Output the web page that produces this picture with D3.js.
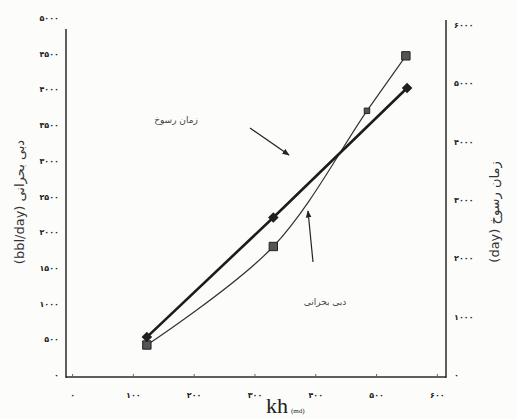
<!DOCTYPE html>
<html>
<head>
<meta charset="utf-8">
<script src="https://cdn.jsdelivr.net/npm/d3@7"></script>
<style>
  body { margin: 0; background: #fcfcfb; }
  svg { display: block; }
</style>
</head>
<body>
<div id="app"></div>
<script>
// data
const rateKh = [123, 331, 485, 549];          // thin line, squares, left axis
const rateValues = [420, 1800, 3700, 4470];   // دبی بحرانی (bbl/day)
const timeKh = [123, 331, 551];               // thick line, diamonds, right axis
const timeValues = [650, 2700, 4920];         // زمان رسوخ (day)

const xTicks = [0, 100, 200, 300, 400, 500, 600];
const leftTicks = [0, 500, 1000, 1500, 2000, 2500, 3000, 3500, 4000, 4500, 5000];
const rightTicks = [0, 1000, 2000, 3000, 4000, 5000, 6000];

const W = 517, H = 419;
const fa = d => String(d).replace(/\d/g, c => '۰۱۲۳۴۵۶۷۸۹'[+c]);

const svg = d3.select('#app').append('svg')
  .attr('width', W)
  .attr('height', H);

const x = d3.scaleLinear().domain([-10, 615]).range([66, 446]);
const yL = d3.scaleLinear().domain([0, 5000]).range([375, 18]);
const yR = d3.scaleLinear().domain([0, 6000]).range([375, 25]);

const ink = '#2a2a2a';

// axis frame lines
svg.append('line').attr('x1', 66).attr('x2', 66).attr('y1', 29).attr('y2', 378)
  .attr('stroke', ink).attr('stroke-width', 1.5);
svg.append('line').attr('x1', 66).attr('x2', 446).attr('y1', 377).attr('y2', 377)
  .attr('stroke', ink).attr('stroke-width', 1.5);
svg.append('line').attr('x1', 446).attr('x2', 446).attr('y1', 20).attr('y2', 378)
  .attr('stroke', ink).attr('stroke-width', 1.5);

const tickFont = g => g.selectAll('text')
  .attr('font-family', 'DejaVu Sans')
  .attr('font-weight', 'bold')
  .attr('font-size', 8)
  .attr('fill', '#222');

// x axis
svg.append('g')
  .attr('transform', 'translate(0,377)')
  .call(d3.axisBottom(x).tickValues(xTicks).tickSize(-3).tickPadding(15).tickFormat(fa))
  .call(g => g.select('.domain').remove())
  .call(g => g.selectAll('line').attr('stroke', '#666'))
  .call(tickFont);

// left axis
svg.append('g')
  .attr('transform', 'translate(66,0)')
  .call(d3.axisLeft(yL).tickValues(leftTicks).tickSize(0).tickPadding(7).tickFormat(fa))
  .call(g => g.select('.domain').remove())
  .call(tickFont);

// right axis
svg.append('g')
  .attr('transform', 'translate(446,0)')
  .call(d3.axisRight(yR).tickValues(rightTicks).tickSize(0).tickPadding(8).tickFormat(fa))
  .call(g => g.select('.domain').remove())
  .call(tickFont);

// series: critical rate (thin, smoothed, squares) and breakthrough time (thick, diamonds)
const rateData = rateKh.map((k, i) => ({ k, v: rateValues[i] }));
const timeData = timeKh.map((k, i) => ({ k, v: timeValues[i] }));

svg.append('path')
  .datum(rateData)
  .attr('fill', 'none')
  .attr('stroke', '#333')
  .attr('stroke-width', 1.2)
  .attr('d', d3.line().x(d => x(d.k)).y(d => yL(d.v)).curve(d3.curveCatmullRom.alpha(0.5)));

svg.append('path')
  .datum(timeData)
  .attr('fill', 'none')
  .attr('stroke', '#1c1c1c')
  .attr('stroke-width', 2.6)
  .attr('d', d3.line().x(d => x(d.k)).y(d => yR(d.v)));

svg.selectAll('path.sq')
  .data(rateData)
  .join('path')
  .attr('class', 'sq')
  .attr('transform', d => `translate(${x(d.k)},${yL(d.v)})`)
  .attr('d', (d, i) => d3.symbol(d3.symbolSquare, i === 2 ? 30 : 70)())
  .attr('fill', '#555')
  .attr('stroke', '#222')
  .attr('stroke-width', 1);

// diamonds: squares turned by 45 degrees
svg.selectAll('path.dm')
  .data(timeData)
  .join('path')
  .attr('class', 'dm')
  .attr('transform', d => `translate(${x(d.k)},${yR(d.v)}) rotate(45)`)
  .attr('d', d3.symbol(d3.symbolSquare, 56)())
  .attr('fill', '#1f1f1f');

// annotations with arrows
svg.append('defs').append('marker')
  .attr('id', 'arr')
  .attr('viewBox', '0 0 10 10')
  .attr('refX', 9).attr('refY', 5)
  .attr('markerWidth', 6).attr('markerHeight', 6)
  .attr('orient', 'auto')
  .append('path').attr('d', 'M0,1L10,5L0,9Z').attr('fill', '#222');

svg.append('text')
  .attr('x', 176).attr('y', 123)
  .attr('text-anchor', 'middle')
  .attr('font-family', 'DejaVu Sans')
  .attr('font-size', 9)
  .attr('fill', '#444')
  .text('زمان رسوخ');
svg.append('line')
  .attr('x1', 250).attr('y1', 128).attr('x2', 289).attr('y2', 155)
  .attr('stroke', '#222').attr('stroke-width', 1.2)
  .attr('marker-end', 'url(#arr)');

svg.append('text')
  .attr('x', 325).attr('y', 305)
  .attr('text-anchor', 'middle')
  .attr('font-family', 'DejaVu Sans')
  .attr('font-size', 9)
  .attr('fill', '#444')
  .text('دبی بحرانی');
svg.append('line')
  .attr('x1', 313).attr('y1', 262).attr('x2', 308).attr('y2', 211)
  .attr('stroke', '#222').attr('stroke-width', 1.2)
  .attr('marker-end', 'url(#arr)');

// axis titles
svg.append('text')
  .attr('transform', 'translate(24,202) rotate(-90)')
  .attr('text-anchor', 'middle')
  .attr('font-family', 'DejaVu Sans')
  .attr('font-size', 13)
  .attr('fill', '#333')
  .text('(bbl/day) دبی بحرانی');

svg.append('text')
  .attr('transform', 'translate(499,212) rotate(-90)')
  .attr('text-anchor', 'middle')
  .attr('font-family', 'DejaVu Sans')
  .attr('font-size', 13)
  .attr('fill', '#333')
  .text('(day) زمان رسوخ');

const xl = svg.append('text')
  .attr('x', 266).attr('y', 413)
  .attr('font-family', 'Liberation Serif')
  .attr('fill', '#222');
xl.append('tspan').attr('font-size', 22).text('kh');
xl.append('tspan').attr('font-size', 7).attr('dx', 3).text('(md)');
</script>
</body>
</html>
